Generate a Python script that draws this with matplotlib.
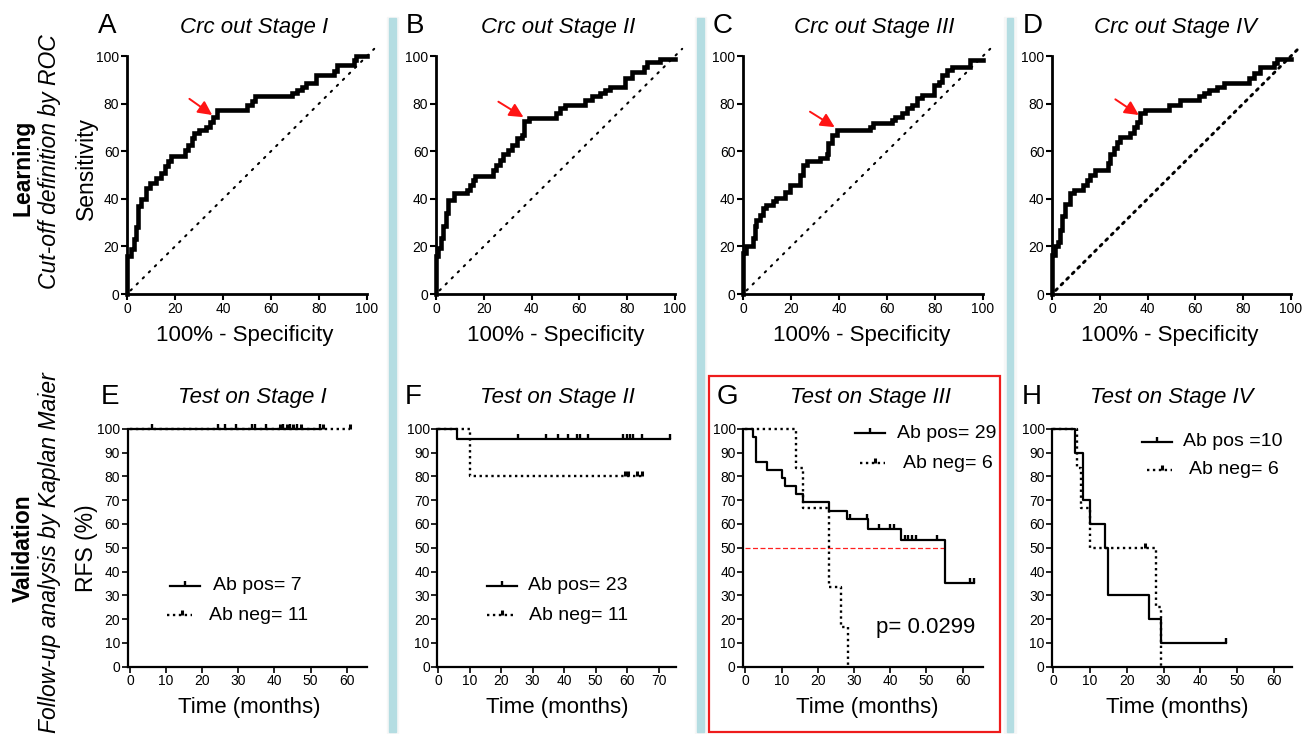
import matplotlib
matplotlib.use("Agg")
import matplotlib.pyplot as plt
from matplotlib.patches import Rectangle
from matplotlib.lines import Line2D
from matplotlib.path import Path

plt.rcParams['font.family'] = ['Liberation Sans', 'DejaVu Sans']

# ---------------- data ----------------
roc_titles = ["Crc out Stage I", "Crc out Stage II", "Crc out Stage III", "Crc out Stage IV"]
roc_letters = ["A", "B", "C", "D"]

A_fpr = [0, 0, 1.7, 3, 3.8, 4.5, 5.9, 8, 9.5, 12, 14.3, 15.7, 17, 18.5, 24, 25.5, 27, 28, 30, 33, 34.5, 36, 37.3, 50, 52, 53.4, 68.8, 71, 73, 74.4, 78.6, 86.3, 87.7, 94.7, 95.4, 100]
A_tpr = [0, 16, 19, 23, 28, 37, 40, 44.5, 46.5, 48.7, 50.8, 53.6, 55.7, 58, 60.6, 62.7, 65.5, 67.6, 69, 70.3, 72.4, 74.5, 77.3, 79.4, 81.3, 83, 84.3, 85.7, 87, 88.5, 92, 93.8, 96.2, 98.3, 100, 100]
B_fpr = [0, 0, 1, 2, 3, 4, 5.2, 7.5, 12.8, 14.2, 15.4, 16.3, 23.7, 25, 26.8, 28.2, 30.3, 31.7, 33.8, 35.9, 37, 39, 50, 52, 54, 62.4, 65.2, 68.7, 70.8, 72.9, 79.2, 82, 86.9, 88.3, 93.9, 100]
B_tpr = [0, 15.8, 19.3, 23.5, 28.4, 34, 39.6, 42.4, 43.8, 45.9, 48, 49.4, 52, 54.3, 56.4, 59, 60.6, 62.7, 65.5, 66.9, 72.5, 74, 76, 78, 79.4, 81.5, 83, 84.3, 85.7, 87, 90.6, 93.4, 95.5, 97.6, 98.6, 98.6]
C_fpr = [0, 0, 1.4, 4.2, 4.9, 5.6, 7, 8.4, 9.7, 12.5, 13.9, 17.4, 19.5, 23.7, 24.8, 26.5, 32, 34.8, 35.5, 36.9, 39, 52.9, 54.3, 62, 63.4, 66.2, 68.2, 70.3, 72.4, 74.5, 79.4, 81.5, 82.9, 85, 87, 94.7, 100]
C_tpr = [0, 17.2, 20, 23.5, 28.4, 31.2, 33.3, 36, 37.5, 38.9, 40.3, 43, 45.9, 50, 54.3, 55.7, 57, 59, 63.4, 66.9, 69, 70.3, 71.7, 73, 74.5, 76, 78, 79.4, 82.2, 83.6, 87.8, 89.2, 92, 94, 95.5, 98.3, 98.3]
D_fpr = [0, 0, 1.4, 2.4, 3.5, 4.2, 5.6, 7.7, 9, 13, 14.6, 16, 18.1, 23.3, 24.4, 25.8, 27.2, 28.6, 32.8, 34.2, 35.6, 37, 39, 48.8, 53.7, 61.4, 63.5, 65.6, 69, 71.8, 82.3, 84.4, 87.2, 92.7, 94.1, 100]
D_tpr = [0, 16.5, 20, 22, 27, 32.6, 38, 42.4, 43.8, 45.9, 48, 50, 52, 55, 59, 61.3, 64, 66, 67.6, 70.3, 72.4, 76, 77.3, 79.4, 81.5, 83, 84.3, 85.7, 87, 88.5, 90.6, 92.7, 95.5, 96.9, 98.6, 98.6]
# cut-off arrows: (tail, tip) in data units
arrow_tail = [(26, 82), (26.1, 80.8), (27.9, 76.6), (26.5, 81.8)]
arrow_tip = [(35.5, 75.2), (36.6, 74.3), (38.2, 70.1), (36.3, 75.2)]

km_titles = ["Test on Stage I", "Test on Stage II", "Test on Stage III", "Test on Stage IV"]
km_letters = ["E", "F", "G", "H"]
pos_labels = ["Ab pos= 7", "Ab pos= 23", "Ab pos= 29", "Ab pos =10"]
neg_labels = ["Ab neg= 11", "Ab neg= 11", "Ab neg= 6", "Ab neg= 6"]

E_pos_t = [0, 53]
E_pos_s = [100, 100]
E_pos_c = [6, 24.5, 26.3, 29.4, 33.7, 34.6, 37.6, 42.5, 44.3, 46.2, 52.6]
E_neg_t = [0, 61]
E_neg_s = [100, 100]
E_neg_c = [41.5, 43.4, 45.2, 47.5, 53.5, 61]

F_pos_t = [0, 6, 73.5]
F_pos_s = [100, 95.6, 95.6]
F_pos_c = [25.3, 34.3, 38.2, 41.3, 44, 45, 47.5, 58.8, 59.8, 60.9, 62, 64.8, 73.5]
F_neg_t = [0, 10, 64.6]
F_neg_s = [100, 80, 80]
F_neg_c = [59.3, 60.3, 63, 64.6]

G_pos_t = [0, 2, 3, 6, 10, 11, 14, 16, 23, 28, 34, 43, 55, 63]
G_pos_s = [100, 96.6, 86.2, 82.8, 79.3, 75.9, 72.4, 69, 65.5, 62.1, 58, 53.2, 35.3, 35.3]
G_pos_c = [29, 33.5, 37, 40, 41, 44, 45, 46, 47, 53, 62, 63]
G_neg_t = [0, 14, 16, 23, 26.5, 28.3]
G_neg_s = [100, 83.3, 66.7, 33.3, 16.7, 0]
G_neg_c = []

H_pos_t = [0, 6, 8, 10, 14, 15, 26, 29.3, 47]
H_pos_s = [100, 90, 70, 60, 50, 30, 20, 10, 10]
H_pos_c = [47]
H_neg_t = [0, 6.5, 7.5, 10, 28, 29.3]
H_neg_s = [100, 83.3, 66.7, 50, 25, 0]
H_neg_c = [25]

median_line = 50
p_text = "p= 0.0299"

# ---------------- layout helpers ----------------
W, H = 1302, 734
fig = plt.figure(figsize=(W / 100, H / 100), dpi=100)


def frect(l, r, t, b):
    return [l / W, 1 - b / H, (r - l) / W, (b - t) / H]


def ftext(x, y, s, **kw):
    kw.setdefault('ha', 'center')
    kw.setdefault('va', 'center')
    fig.text(x / W, 1 - y / H, s, **kw)


# background separators
for x0 in (389, 697, 1006.5):
    fig.add_artist(Rectangle(((x0 - 2.5) / W, 1 - 733 / H), 11.5 / W, (733 - 17) / H,
                             transform=fig.transFigure, color='#f6f7f7', zorder=0))
    fig.add_artist(Rectangle((x0 / W, 1 - 732 / H), 6.5 / W, (732 - 18) / H,
                             transform=fig.transFigure, color='#b4dde2', zorder=0.5))
# red frame around G
fig.add_artist(Rectangle((708.5 / W, 1 - 731.5 / H), (999.5 - 708.5) / W, (731.5 - 375.5) / H,
                         transform=fig.transFigure, fill=False, edgecolor='#ee1c1c',
                         lw=1.6, zorder=1))


def style(ax, lw):
    for s in ('top', 'right'):
        ax.spines[s].set_visible(False)
    for s in ('left', 'bottom'):
        ax.spines[s].set_linewidth(lw)
        ax.spines[s].set_capstyle('projecting')
    ax.tick_params(direction='out', length=4, width=lw * 0.75, labelsize=10, pad=1.5,
                   colors='black')
    ax.patch.set_alpha(0)


# ---------------- ROC panels ----------------
roc_fpr = [A_fpr, B_fpr, C_fpr, D_fpr]
roc_tpr = [A_tpr, B_tpr, C_tpr, D_tpr]
roc_lr = [(127, 367), (436, 675), (743, 983), (1052, 1291)]
roc_title_x = [254, 558, 874, 1175]
roc_letter_x = [107, 415, 723, 1033]
roc_xlabel_x = [245, 556, 862, 1170]
diag_style = [(1.5, (0, (0.8, 3.3))), (1.5, (0, (0.8, 3.3))), (1.5, (0, (0.8, 3.3))),
              (2.1, (0, (0.8, 1.9)))]

for i in range(4):
    l, r = roc_lr[i]
    ax = fig.add_axes(frect(l, r, 56, 294))
    style(ax, 2.0)
    ax.set_xlim(0, 100)
    ax.set_ylim(0, 100)
    ax.set_xticks(range(0, 101, 20))
    ax.set_yticks(range(0, 101, 20))
    dlw, dls = diag_style[i]
    ax.plot([1.5, 103], [1.5, 103], color='black', lw=dlw, ls=dls,
            clip_on=False, dash_capstyle='round')
    ax.plot(roc_fpr[i], roc_tpr[i], drawstyle='steps-post', color='black', lw=3.3,
            clip_on=False, solid_joinstyle='miter', zorder=3)
    ax.annotate('', xy=arrow_tip[i], xytext=arrow_tail[i],
                arrowprops=dict(arrowstyle='-|>,head_length=0.7,head_width=0.35',
                                color='#ff1414', lw=1.4, mutation_scale=12,
                                shrinkA=0, shrinkB=0), zorder=5)
    ftext(roc_title_x[i], 27, roc_titles[i], fontsize=16, style='italic')
    ftext(roc_letter_x[i], 26, roc_letters[i], fontsize=20)
    ftext(roc_xlabel_x[i], 335, "100% - Specificity", fontsize=16)

ftext(86, 168, "Sensitivity", fontsize=16.5, rotation=90)
ftext(23, 168, "Learning", fontsize=16.5, rotation=90, weight='bold')
ftext(50, 162, "Cut-off definition by ROC", fontsize=16.5, rotation=90, style='italic')

# ---------------- Kaplan-Meier panels ----------------
km_pos = [(E_pos_t, E_pos_s, E_pos_c), (F_pos_t, F_pos_s, F_pos_c),
          (G_pos_t, G_pos_s, G_pos_c), (H_pos_t, H_pos_s, H_pos_c)]
km_neg = [(E_neg_t, E_neg_s, E_neg_c), (F_neg_t, F_neg_s, F_neg_c),
          (G_neg_t, G_neg_s, G_neg_c), (H_neg_t, H_neg_s, H_neg_c)]
# (left px, right px, xmin, xmax, xticks max)
km_geo = [(127.8, 366.5, -0.6, 65.5, 60), (437.4, 676, -0.2, 75.5, 70),
          (743.3, 983.3, -0.55, 65.7, 60), (1052.3, 1292.4, -0.27, 65, 60)]
km_title_x = [252, 557, 870, 1172]
km_letter_x = [110, 413, 727, 1032]
km_xlabel_x = [249, 557, 867, 1177]
# legend geometry: (solid x1, x2, y, text x), (dotted x1, x2, y, text x)
leg_pos = [(170, 200, 586, 213), (487, 517, 586, 528), (855, 885, 433, 897), (1142, 1172, 442, 1183)]
leg_neg = [(167, 192, 615, 209), (487, 513, 615, 529), (860, 885, 463, 903), (1147, 1172, 470, 1189)]

tick_marker = Path([(0, 0), (0, 1)], [Path.MOVETO, Path.LINETO])
dot_ls = (0, (1, 1.5))


def surv_at(t, s, x):
    v = s[0]
    for ti, si in zip(t, s):
        if ti <= x:
            v = si
    return v


for i in range(4):
    l, r, x0, x1, xmax = km_geo[i]
    ax = fig.add_axes(frect(l, r, 428.7, 666.7))
    style(ax, 1.6)
    ax.set_xlim(x0, x1)
    ax.set_ylim(0, 100)
    ax.set_xticks(range(0, xmax + 1, 10))
    ax.set_yticks(range(0, 101, 10))
    nt, ns, nc = km_neg[i]
    ax.plot(nt, ns, drawstyle='steps-post', color='black', lw=1.7, ls=dot_ls,
            clip_on=False, zorder=2)
    if nc:
        ax.plot(nc, [surv_at(nt, ns, c) for c in nc], ls='none', marker=tick_marker,
                ms=7, mew=2.2, color='black', clip_on=False, zorder=2)
    pt, ps, pc = km_pos[i]
    ax.plot(pt, ps, drawstyle='steps-post', color='black', lw=1.6, clip_on=False, zorder=3)
    if pc:
        ax.plot(pc, [surv_at(pt, ps, c) for c in pc], ls='none', marker=tick_marker,
                ms=7, mew=1.7, color='black', clip_on=False, zorder=3)
    if i == 2:
        ax.plot([0, 55.5], [median_line, median_line], color='#ff2020', lw=0.9,
                ls=(0, (4, 2)), zorder=1)
        ftext(926, 628, p_text, fontsize=16)

    ftext(km_title_x[i], 398, km_titles[i], fontsize=16, style='italic')
    ftext(km_letter_x[i], 397, km_letters[i], fontsize=20)
    ftext(km_xlabel_x[i], 708, "Time (months)", fontsize=16)

    # manual legend
    a1, a2, ay, tx = leg_pos[i]
    fig.add_artist(Line2D([a1 / W, a2 / W], [1 - ay / H, 1 - ay / H], transform=fig.transFigure,
                          color='black', lw=1.6))
    fig.add_artist(Line2D([(a1 + a2) / 2 / W], [1 - ay / H], transform=fig.transFigure,
                          ls='none', marker=tick_marker, ms=7, mew=1.7, color='black'))
    ftext(tx, ay, pos_labels[i], fontsize=14, ha='left')
    b1, b2, by, tx2 = leg_neg[i]
    fig.add_artist(Line2D([b1 / W, b2 / W], [1 - by / H, 1 - by / H], transform=fig.transFigure,
                          color='black', lw=1.7, ls=dot_ls))
    fig.add_artist(Line2D([(b1 + b2) / 2 / W + 2 / W], [1 - by / H], transform=fig.transFigure,
                          ls='none', marker=tick_marker, ms=7, mew=2.2, color='black'))
    ftext(tx2, by, neg_labels[i], fontsize=14, ha='left')

ftext(86, 548, "RFS (%)", fontsize=16.5, rotation=90)
ftext(23, 548, "Validation", fontsize=16.5, rotation=90, weight='bold')
ftext(50, 553, "Follow-up analysis by Kaplan Maier", fontsize=16.5, rotation=90, style='italic')

fig.savefig("out.png", dpi=100)
